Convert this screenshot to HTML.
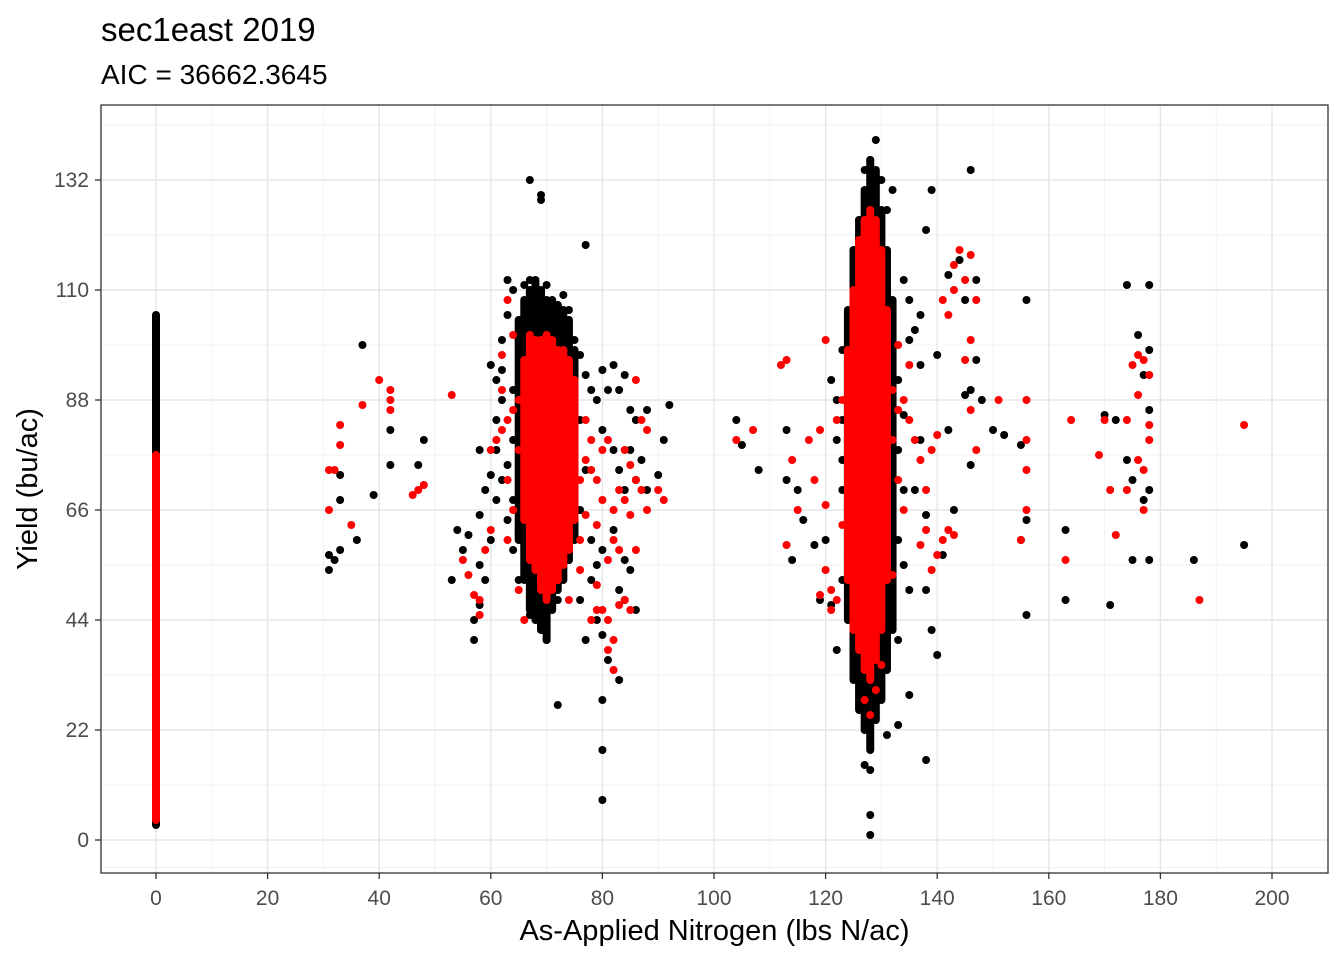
<!DOCTYPE html>
<html><head><meta charset="utf-8"><style>
body{margin:0;background:#fff;}
svg{display:block;font-family:"Liberation Sans",Arial,sans-serif;}
</style></head><body>
<svg id="chart" width="1344" height="960" viewBox="0 0 1344 960">
<rect width="1344" height="960" fill="#fff"/>
<text x="101" y="41" font-size="33" fill="#000">sec1east 2019</text>
<text x="101" y="84" font-size="28" fill="#000">AIC = 36662.3645</text>
<g id="grid"></g>
<g id="marks"></g>
<rect x="101" y="105" width="1227" height="768" fill="none" stroke="#333" stroke-width="1.3"/>
<g id="axes"></g>
<text x="714.5" y="940" font-size="29" text-anchor="middle" fill="#000">As-Applied Nitrogen (lbs N/ac)</text>
<text transform="translate(37,489) rotate(-90)" font-size="29" text-anchor="middle" fill="#000">Yield (bu/ac)</text>
</svg>
<script>
const xTicks=[0,20,40,60,80,100,120,140,160,180,200];
const yTicks=[0,22,44,66,88,110,132];
// dense vertical bands [x, yMin, yMax]
const blackBands=[[0,3,105],[65,60,104],[66,52,108],[67,46,110],[68,44,112],[69,42,110],[70,40,108],[71,46,108],[72,50,107],[73,52,106],[74,56,104],[75,60,98],
[124,44,106],[125,32,118],[126,26,124],[127,22,130],[128,18,136],[129,24,134],[130,28,126],[131,34,118],[132,42,108]];
const redBands=[[0,4,77],[66,64,96],[67,56,101],[68,54,100],[69,50,100],[70,48,101],[71,50,100],[72,52,98],[73,55,98],[74,58,96],[75,64,92],
[124,52,98],[125,42,110],[126,38,120],[127,34,124],[128,32,126],[129,36,124],[130,42,118],[131,52,106]];
const blackPts=[[31,54],[31,57],[32,56],[33,58],[33,68],[33,73],[36,60],[37,99],[39,69],[42,75],[42,82],[47,75],[48,80],
[53,52],[54,62],[55,58],[56,61],[57,40],[57,44],[58,47],[58,55],[58,65],[59,52],[59,70],[60,60],[60,73],[61,78],[61,84],[62,94],[62,100],[63,105],[63,112],[64,110],[64,68],[65,52],[65,100],[66,111],[67,112],[67,107],[68,110],[69,108],[70,111],[71,104],[72,107],[73,109],[74,106],[75,100],[76,97],[77,93],[78,90],[79,88],[80,94],[81,90],[82,95],[83,90],[84,93],[85,86],[85,78],[86,84],[86,72],[87,76],[88,70],[88,86],[90,73],[92,87],[91,80],[80,82],[82,78],[83,74],[84,70],[82,62],[80,58],[79,55],[78,52],[83,50],[84,56],[85,54],[86,46],[84,48],[79,44],[77,40],[80,41],[81,36],[80,28],[83,32],[80,18],[80,8],[72,27],[67,45],[68,47],[69,50],[70,40],[72,48],[74,56],[76,48],[78,60],[75,62],[73,58],[66,58],[65,62],[63,75],[61,68],[66,73],[67,132],[69,128],[69,129],[77,119],[62,88],[60,95],[61,92],[64,80],[62,72],[63,64],[58,78],[76,66],[77,74],[76,84],[64,90],[64,58],
[104,84],[105,79],[108,74],[113,82],[113,72],[114,56],[115,70],[116,64],[118,59],[119,48],[120,60],[121,47],[122,38],[123,52],[124,45],[124,67],[123,70],[122,80],[121,92],[122,88],[123,98],[124,104],[125,110],[125,114],[126,118],[126,124],[127,128],[127,134],[128,136],[129,140],[130,132],[131,126],[132,130],[134,112],[135,108],[136,102],[137,95],[137,80],[138,65],[138,50],[139,42],[140,37],[135,29],[133,23],[131,21],[138,16],[128,14],[127,15],[128,5],[128,1],[139,130],[138,122],[142,113],[144,116],[145,108],[146,134],[147,112],[146,90],[147,96],[150,82],[152,81],[156,108],[156,64],[156,45],[155,60],[155,79],[163,62],[163,48],[171,47],[170,85],[172,84],[174,76],[175,72],[177,68],[178,70],[175,56],[178,56],[174,111],[178,111],[176,101],[178,98],[177,93],[178,86],[186,56],[195,59],[142,82],[141,57],[146,75],[145,89],[148,88],[143,66],[133,60],[134,55],[135,50],[132,48],[136,70],[134,85],[133,92],[135,100],[140,97],[137,105],[123,76],[123,84],[133,78],[134,70],[133,40]];
const redPts=[[31,66],[31,74],[32,74],[33,79],[33,83],[35,63],[37,87],[40,92],[42,90],[42,88],[42,86],[46,69],[47,70],[48,71],
[53,89],[55,56],[56,53],[57,49],[58,48],[58,45],[59,58],[60,62],[60,78],[61,80],[62,82],[62,90],[63,84],[63,60],[64,86],[64,101],[65,88],[66,96],[66,44],[67,97],[65,50],[68,60],[77,76],[78,74],[79,72],[80,78],[81,80],[82,66],[83,70],[84,68],[85,65],[86,72],[87,70],[88,66],[86,58],[85,75],[84,78],[86,92],[87,84],[88,82],[90,70],[91,68],[80,46],[81,44],[82,40],[81,38],[82,34],[83,47],[84,48],[85,46],[78,44],[79,46],[82,60],[79,63],[80,68],[78,80],[83,58],[81,56],[79,51],[76,54],[77,65],[74,48],[72,52],[70,50],[75,90],[76,72],[66,70],[64,66],[63,72],[62,97],[63,108],[65,78],[76,60],[77,84],
[104,80],[107,82],[112,95],[113,96],[113,59],[115,66],[114,76],[117,80],[119,82],[120,67],[120,100],[118,72],[121,50],[121,46],[122,84],[123,88],[124,56],[124,96],[125,78],[124,70],[123,63],[120,54],[119,49],[122,48],[133,99],[134,88],[135,84],[136,80],[137,76],[138,70],[139,78],[140,81],[141,60],[140,57],[141,108],[142,105],[143,115],[143,110],[144,118],[145,96],[146,117],[146,100],[147,108],[146,86],[147,78],[145,112],[151,88],[156,88],[156,80],[156,66],[155,60],[156,74],[163,56],[164,84],[169,77],[171,70],[172,61],[170,84],[174,84],[175,95],[176,97],[177,96],[178,93],[176,76],[177,74],[178,80],[178,83],[177,66],[174,70],[176,89],[187,48],[195,83],[138,62],[137,59],[139,54],[142,62],[143,61],[135,95],[132,90],[133,72],[134,66],[131,55],[132,53],[130,35],[129,30],[127,28],[128,25],[132,80],[133,86]];

const NS='http://www.w3.org/2000/svg';
const sx=v=>156+v*5.58;
const sy=v=>840-v*5;
const R=4;
function mk(tag,attrs,parent){const e=document.createElementNS(NS,tag);for(const k in attrs)e.setAttribute(k,attrs[k]);parent.appendChild(e);return e;}
const grid=document.getElementById('grid'),marks=document.getElementById('marks'),axes=document.getElementById('axes');
mk('rect',{x:101,y:105,width:1227,height:768,fill:'#fff'},grid);
for(let i=0;i<xTicks.length;i++){
  const mx=xTicks[i]+10;
  if(mx<210){const l=mk('line',{x1:sx(mx),x2:sx(mx),y1:105,y2:873,stroke:'#f2f2f2','stroke-width':1},grid);
  
  }
}
mk('line',{x1:sx(-10),x2:sx(-10),y1:105,y2:873,stroke:'#f2f2f2'},grid);
for(let i=0;i<yTicks.length;i++){
  const my=yTicks[i]+11;
  const l=mk('line',{x1:101,x2:1328,y1:sy(my),y2:sy(my),stroke:'#f2f2f2','stroke-width':1},grid);
  
  
}
mk('line',{x1:101,x2:1328,y1:sy(-5.5),y2:sy(-5.5),stroke:'#f2f2f2'},grid);
xTicks.forEach(t=>{
  const l=mk('line',{x1:sx(t),x2:sx(t),y1:105,y2:873,stroke:'#e6e6e6','stroke-width':1.4},grid);
  
  
  mk('line',{x1:sx(t),x2:sx(t),y1:873,y2:879,stroke:'#333','stroke-width':1.3},axes);
  const tx=mk('text',{x:sx(t),y:905,'font-size':21,'text-anchor':'middle',fill:'#4d4d4d'},axes);
  tx.textContent=t;
  
  
});
yTicks.forEach(t=>{
  const l=mk('line',{x1:101,x2:1328,y1:sy(t),y2:sy(t),stroke:'#e6e6e6','stroke-width':1.4},grid);
  
  
  mk('line',{x1:95,x2:101,y1:sy(t),y2:sy(t),stroke:'#333','stroke-width':1.3},axes);
  const tx=mk('text',{x:89,y:sy(t)+7,'font-size':21,'text-anchor':'end',fill:'#4d4d4d'},axes);
  tx.textContent=t;
  
  
});
function band(b,col){
  const r=mk('rect',{x:sx(b[0])-R,y:sy(b[2])-R,width:2*R,height:sy(b[1])-sy(b[2])+2*R,rx:R,fill:col},marks);
  
  
}
function pt(p,col){
  const c=mk('circle',{cx:sx(p[0]),cy:sy(p[1]),r:R,fill:col},marks);
  
  
}
blackBands.forEach(b=>band(b,'#000'));
blackPts.forEach(p=>pt(p,'#000'));
redBands.forEach(b=>band(b,'#ff0000'));
redPts.forEach(p=>pt(p,'#ff0000'));
</script>
</body></html>
